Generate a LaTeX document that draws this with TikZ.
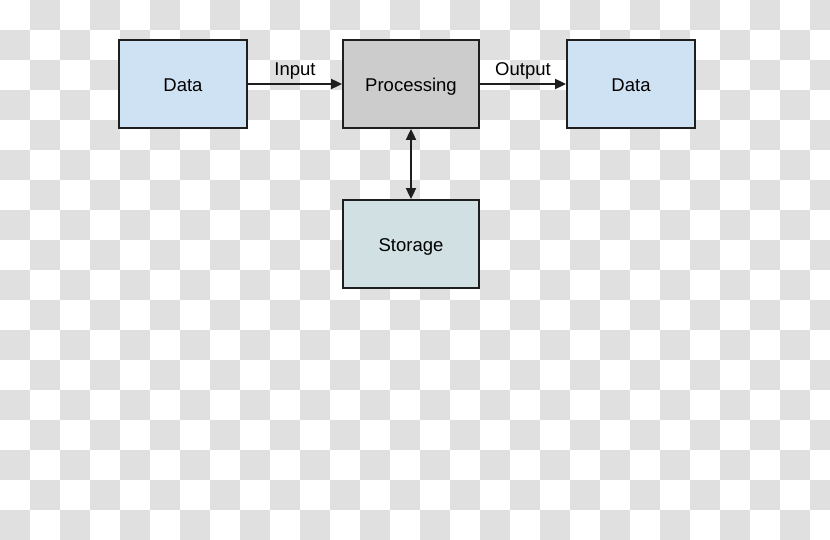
\documentclass[tikz,border=0pt]{standalone}
\usepackage{fontspec}
\setmainfont{Liberation Sans}
\usetikzlibrary{arrows.meta}
\definecolor{checkgray}{RGB}{224,224,224}
\definecolor{datablue}{RGB}{207,226,243}
\definecolor{procgray}{RGB}{204,204,204}
\definecolor{storeblue}{RGB}{208,224,227}
\definecolor{edgecol}{RGB}{30,30,30}
\tikzset{
  box/.style={draw=edgecol, line width=1.8pt, minimum width=#1, minimum height=88pt, inner sep=0pt, text depth=0pt, text height=15pt, font=\fontsize{18.5}{22}\selectfont},
  conn/.style={draw=edgecol, line width=1.8pt, -{Triangle[length=11pt,width=10pt]}},
  lbl/.style={font=\fontsize{18.5}{22}\selectfont, inner sep=0pt}
}
\begin{document}
\begin{tikzpicture}[x=1pt,y=-1pt]
\useasboundingbox (0,0) rectangle (830,540);
\fill[white] (0,0) rectangle (830,540);
\begin{scope}
\clip (0,0) rectangle (830,540);
\foreach \i in {0,...,27}{
  \foreach \j in {0,...,17}{
    \pgfmathtruncatemacro{\cpar}{mod(\i+\j,2)}
    \ifnum\cpar=1
      \fill[checkgray] (\i*30,\j*30) rectangle ++(30,30);
    \fi
  }
}
\end{scope}
\node[box=128pt, fill=datablue] (d1) at (183,84) {Data};
\node[box=136pt, fill=procgray] (p) at (411,84) {Processing};
\node[box=128pt, fill=datablue] (d2) at (631,84) {Data};
\node[box=136pt, fill=storeblue] (s) at (411,244) {Storage};
\draw[conn] (d1) -- node[lbl, above=4pt] (lin) {Input} (p);
\draw[conn] (p) -- node[lbl, above=4pt] (lout) {Output} (d2);
\draw[conn, {Triangle[length=11pt,width=10pt]}-{Triangle[length=11pt,width=10pt]}] (p) -- (s);
\end{tikzpicture}
\end{document}
